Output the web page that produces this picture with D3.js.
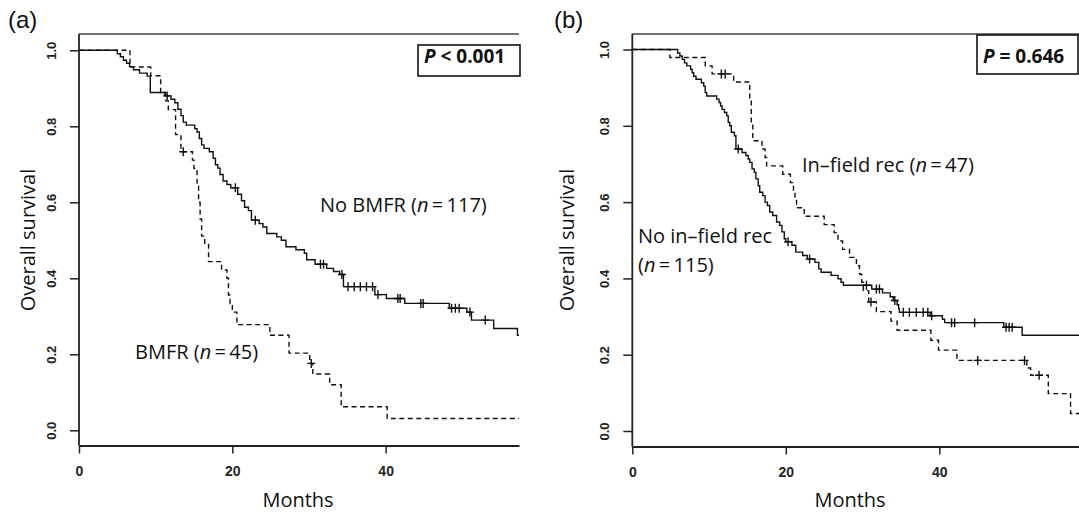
<!DOCTYPE html>
<html><head><meta charset="utf-8">
<script src="https://cdn.jsdelivr.net/npm/d3@7"></script>
<style>body{margin:0;background:#fff}svg{display:block}</style>
</head><body>
<svg id="chart" width="1079" height="515"></svg>
<script>
// ---------------- data ----------------
const monthTicks = [0, 20, 40];
const survTicks = [0, 0.2, 0.4, 0.6, 0.8, 1.0];
const survTickLabels = ["0.0", "0.2", "0.4", "0.6", "0.8", "1.0"];

// Panel (a): No BMFR (n=117), solid
const noBmfrTime = [0, 5.0, 5.4, 5.8, 6.2, 6.6, 7.1, 7.9, 8.9, 9.3, 11.2, 12.0, 12.5, 12.9, 13.3, 13.6, 14.0, 15.1, 15.4, 15.7, 16.0, 16.3, 17.0, 17.5, 17.8, 18.1, 18.4, 18.8, 19.3, 19.8, 20.7, 21.2, 21.6, 22.1, 22.5, 23.5, 24.0, 24.5, 25.8, 26.4, 27.0, 28.3, 29.4, 29.7, 30.8, 32.3, 33.2, 34.0, 34.5, 38.6, 40.1, 42.5, 48.3, 50.6, 51.2, 54.1, 57.2];
const noBmfrSurv = [1, 0.991, 0.983, 0.974, 0.966, 0.957, 0.949, 0.940, 0.932, 0.889, 0.880, 0.871, 0.862, 0.845, 0.828, 0.811, 0.803, 0.794, 0.785, 0.768, 0.751, 0.742, 0.733, 0.716, 0.699, 0.690, 0.673, 0.656, 0.647, 0.638, 0.621, 0.604, 0.587, 0.578, 0.553, 0.544, 0.535, 0.518, 0.509, 0.500, 0.483, 0.475, 0.466, 0.449, 0.437, 0.426, 0.418, 0.410, 0.378, 0.357, 0.347, 0.334, 0.321, 0.311, 0.290, 0.268, 0.250];
const noBmfrCensor = [11.5, 20.4, 23.0, 31.5, 31.9, 34.3, 35.1, 35.9, 36.7, 37.5, 38.3, 39.0, 41.6, 41.9, 44.6, 44.9, 48.6, 49.1, 49.6, 51.0, 53.0];

// Panel (a): BMFR (n=45), dashed
const bmfrTime = [0, 6.65, 9.35, 10.65, 11.3, 11.65, 12.6, 13.3, 14.8, 15.0, 15.4, 15.6, 15.8, 16.0, 16.4, 16.9, 18.6, 19.3, 19.5, 19.7, 20.0, 20.6, 24.9, 27.4, 30.1, 30.5, 32.7, 34.2, 40.2];
const bmfrSurv = [1, 0.956, 0.933, 0.889, 0.867, 0.844, 0.778, 0.733, 0.711, 0.689, 0.644, 0.600, 0.556, 0.511, 0.489, 0.444, 0.422, 0.400, 0.356, 0.333, 0.311, 0.278, 0.250, 0.203, 0.176, 0.148, 0.120, 0.062, 0.031];
const bmfrCensor = [13.6, 30.3];

// Panel (b): No in-field rec (n=115), solid
const noInfieldTime = [0, 5.9, 6.2, 6.5, 6.8, 7.1, 7.6, 7.8, 8.0, 8.3, 9.0, 9.3, 9.5, 9.7, 11.0, 11.3, 11.5, 11.7, 12.0, 12.3, 12.5, 12.7, 12.9, 13.3, 13.5, 14.3, 14.8, 15.1, 15.3, 15.6, 15.9, 16.1, 16.4, 16.6, 17.0, 17.3, 17.6, 17.9, 18.3, 18.8, 19.2, 19.5, 19.8, 20.0, 20.8, 21.3, 22.2, 22.8, 23.8, 24.3, 24.6, 25.9, 26.8, 27.2, 27.5, 31.2, 32.6, 33.6, 34.0, 34.5, 34.7, 34.8, 38.8, 40.4, 40.7, 48.4, 50.8];
const noInfieldSurv = [1, 0.991, 0.983, 0.974, 0.965, 0.957, 0.948, 0.939, 0.930, 0.922, 0.913, 0.904, 0.887, 0.878, 0.870, 0.861, 0.852, 0.843, 0.835, 0.826, 0.809, 0.800, 0.783, 0.774, 0.739, 0.730, 0.722, 0.713, 0.704, 0.687, 0.678, 0.661, 0.643, 0.626, 0.617, 0.600, 0.591, 0.574, 0.565, 0.548, 0.539, 0.522, 0.504, 0.496, 0.487, 0.469, 0.460, 0.451, 0.442, 0.425, 0.416, 0.408, 0.399, 0.390, 0.382, 0.372, 0.362, 0.352, 0.342, 0.331, 0.320, 0.311, 0.302, 0.293, 0.284, 0.272, 0.251];
const noInfieldCensor = [13.8, 20.3, 23.1, 30.5, 31.8, 32.2, 34.2, 35.3, 36.1, 37.0, 37.9, 38.5, 39.0, 41.6, 42.0, 44.6, 48.7, 49.1, 49.5];

// Panel (b): In-field rec (n=47), dashed
const infieldTime = [0, 4.9, 9.5, 10.4, 13.2, 15.3, 15.5, 15.7, 16.9, 17.3, 17.5, 19.6, 20.6, 21.0, 21.2, 21.4, 22.4, 25.0, 26.3, 26.8, 27.4, 28.3, 29.2, 29.6, 29.9, 30.1, 30.8, 31.8, 33.7, 34.5, 38.9, 39.9, 42.3, 51.4, 51.9, 54.2, 57.1];
const infieldSurv = [1, 0.979, 0.957, 0.936, 0.915, 0.870, 0.805, 0.761, 0.739, 0.717, 0.695, 0.673, 0.651, 0.629, 0.607, 0.585, 0.563, 0.541, 0.520, 0.498, 0.476, 0.455, 0.433, 0.411, 0.390, 0.368, 0.338, 0.313, 0.288, 0.264, 0.238, 0.212, 0.185, 0.165, 0.146, 0.098, 0.046];
const infieldCensor = [11.6, 12.1, 31.1, 45.0, 51.1, 53.0];

// ---------------- drawing ----------------
const svg = d3.select("#chart");
const LABEL_FONT = "'Open Sans', 'Noto Sans', sans-serif";
const TICK_FONT = "'Liberation Sans', Arial, sans-serif";
const INK = "#111";

const panels = [
  {
    tag: "(a)", tagX: 8, tagY: 28,
    left: 79, right: 519, xMax: 57.4, top: 34, bottom: 445.5, y0: 430.3, y1: 50.3,
    yTitleX: 35, xTitleX: 298,
    pBox: {x: 418, y: 45, w: 102, h: 31, textX: 424, textY: 63, rest: " < 0.001"},
    series: [
      {time: noBmfrTime, surv: noBmfrSurv, censor: noBmfrCensor, dash: null},
      {time: bmfrTime, surv: bmfrSurv, censor: bmfrCensor, dash: "5,3.5"}
    ],
    labels: [
      {x: 320, y: 212, parts: [["No BMFR (", false], ["n", true], ["\u2009=\u2009117)", false]]},
      {x: 135, y: 359, parts: [["BMFR (", false], ["n", true], ["\u2009=\u200945)", false]]}
    ]
  },
  {
    tag: "(b)", tagX: 554, tagY: 28,
    left: 632.3, right: 1079, xMax: 58.2, top: 34, bottom: 446.5, y0: 431, y1: 49.5,
    yTitleX: 574, xTitleX: 850,
    pBox: {x: 977, y: 35, w: 101, h: 39, textX: 983, textY: 63, rest: " = 0.646"},
    series: [
      {time: noInfieldTime, surv: noInfieldSurv, censor: noInfieldCensor, dash: null},
      {time: infieldTime, surv: infieldSurv, censor: infieldCensor, dash: "5,3.5"}
    ],
    labels: [
      {x: 802, y: 172, parts: [["In\u2013field rec (", false], ["n", true], ["\u2009=\u200947)", false]]},
      {x: 638, y: 243, parts: [["No in\u2013field rec", false]]},
      {x: 638, y: 272, parts: [["(", false], ["n", true], ["\u2009=\u2009115)", false]]}
    ]
  }
];

panels.forEach(cfg => {
  const x = d3.scaleLinear().domain([0, cfg.xMax]).range([cfg.left, cfg.right]);
  const y = d3.scaleLinear().domain([0, 1]).range([cfg.y0, cfg.y1]);
  const g = svg.append("g");

  // frame (top and left)
  g.append("line").attr("x1", cfg.left).attr("x2", cfg.right).attr("y1", cfg.top).attr("y2", cfg.top)
    .attr("stroke", "#444").attr("stroke-width", 1.5);
  g.append("line").attr("x1", cfg.left).attr("x2", cfg.left).attr("y1", cfg.top).attr("y2", cfg.bottom)
    .attr("stroke", "#222").attr("stroke-width", 1.8);

  // x axis
  const xa = g.append("g").attr("transform", `translate(0,${cfg.bottom})`)
    .call(d3.axisBottom(x).tickValues(monthTicks).tickFormat(d3.format("d")).tickSize(8).tickSizeOuter(0).tickPadding(13));
  xa.select(".domain").attr("stroke", "#222").attr("stroke-width", 2);
  xa.selectAll(".tick line").attr("stroke", "#222").attr("stroke-width", 1.5);
  xa.selectAll(".tick text").attr("font-family", TICK_FONT).attr("font-weight", "bold")
    .attr("font-size", 14).attr("fill", "#222");

  // y axis
  const ya = g.append("g").attr("transform", `translate(${cfg.left},0)`)
    .call(d3.axisLeft(y).tickValues(survTicks).tickFormat((d, i) => survTickLabels[i]).tickSize(9));
  ya.select(".domain").remove();
  ya.selectAll(".tick line").attr("stroke", "#222").attr("stroke-width", 1.5);
  ya.selectAll(".tick text").attr("font-family", TICK_FONT).attr("font-weight", "bold")
    .attr("font-size", 13).attr("fill", "#222")
    .attr("transform", "rotate(-90)").attr("x", 0).attr("y", -23).attr("dy", 0)
    .attr("text-anchor", "middle");

  // curves
  const line = d3.line().x(d => x(d[0])).y(d => y(d[1])).curve(d3.curveStepAfter);
  cfg.series.forEach(s => {
    const pts = s.time.map((t, i) => [t, s.surv[i]]);
    pts.push([cfg.xMax, s.surv[s.surv.length - 1]]);
    const p = g.append("path").attr("d", line(pts)).attr("fill", "none")
      .attr("stroke", INK).attr("stroke-width", 1.4);
    if (s.dash) p.attr("stroke-dasharray", s.dash);
    // censor marks
    g.append("g").selectAll("path").data(s.censor).join("path")
      .attr("d", ct => {
        const idx = d3.bisectRight(s.time, ct) - 1;
        const cx = x(ct), cy = y(s.surv[idx]);
        return `M${cx - 4},${cy}H${cx + 4}M${cx},${cy - 4.5}V${cy + 4.5}`;
      })
      .attr("stroke", INK).attr("stroke-width", 1.4).attr("fill", "none");
  });

  // group labels
  cfg.labels.forEach(l => {
    const t = g.append("text").attr("x", l.x).attr("y", l.y)
      .attr("font-family", LABEL_FONT).attr("font-size", 20).attr("fill", INK);
    l.parts.forEach(([txt, it]) => {
      t.append("tspan").text(txt).attr("font-style", it ? "italic" : "normal");
    });
  });

  // P box
  const pb = cfg.pBox;
  g.append("rect").attr("x", pb.x).attr("y", pb.y).attr("width", pb.w).attr("height", pb.h)
    .attr("fill", "#fff").attr("stroke", "#111").attr("stroke-width", 1.6);
  const pt = g.append("text").attr("x", pb.textX).attr("y", pb.textY)
    .attr("font-family", LABEL_FONT).attr("font-size", 19).attr("font-weight", "bold").attr("fill", INK);
  pt.append("tspan").text("P").attr("font-style", "italic");
  pt.append("tspan").text(pb.rest);

  // axis titles
  g.append("text").attr("transform", `translate(${cfg.yTitleX},240) rotate(-90)`)
    .attr("text-anchor", "middle").attr("font-family", LABEL_FONT).attr("font-size", 20)
    .attr("fill", INK).text("Overall survival");
  g.append("text").attr("x", cfg.xTitleX).attr("y", 507).attr("text-anchor", "middle")
    .attr("font-family", LABEL_FONT).attr("font-size", 20).attr("fill", INK).text("Months");

  // panel tag
  svg.append("text").attr("x", cfg.tagX).attr("y", cfg.tagY).attr("font-family", TICK_FONT)
    .attr("font-size", 24).attr("fill", INK).text(cfg.tag);
});
</script>
</body></html>
